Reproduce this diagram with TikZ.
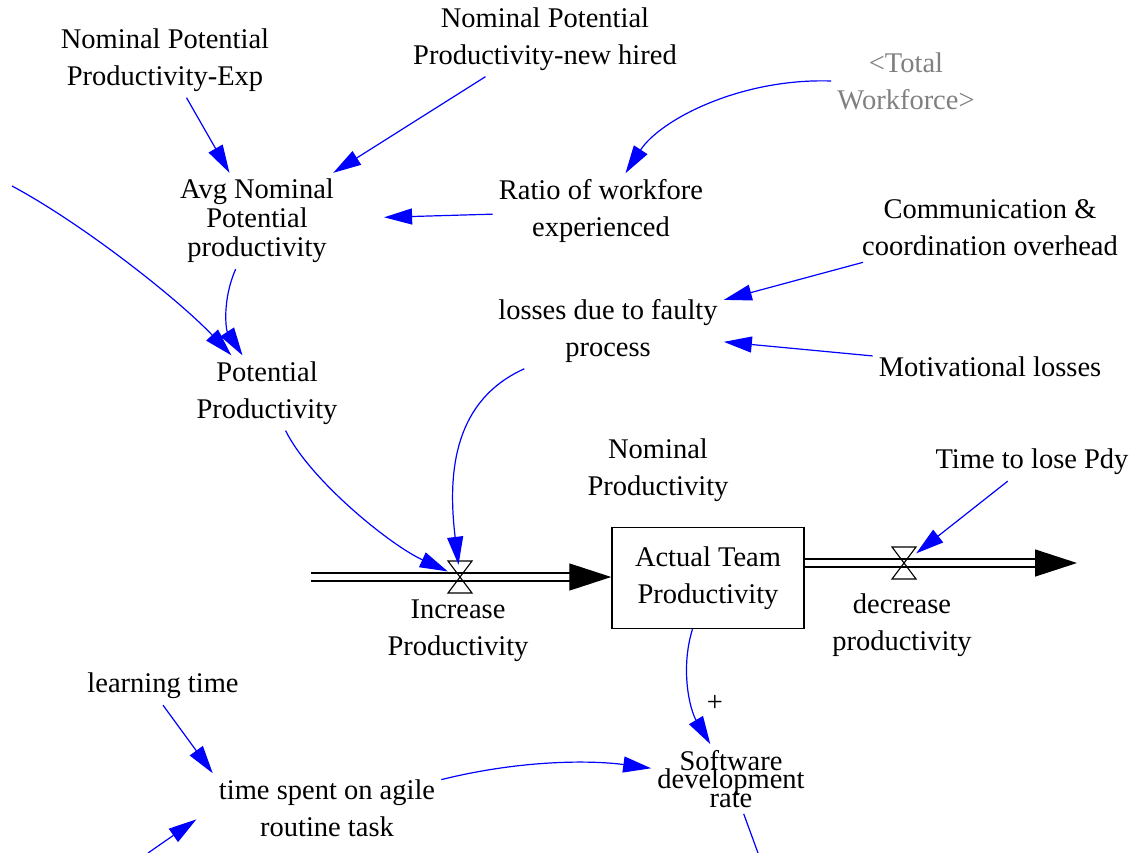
\documentclass[tikz,border=0pt]{standalone}
\usepackage{fontspec}
\setmainfont{Liberation Serif}
\usetikzlibrary{arrows.meta}
\definecolor{linkblue}{RGB}{0,0,255}
\definecolor{shadowgray}{RGB}{128,128,128}
\tikzset{
var/.style={align=center, inner sep=6pt, font=\fontsize{28.5}{37}\selectfont},
ghost/.style={var, text=shadowgray},
link/.style={linkblue, line width=1.2pt, -{Triangle[length=28pt,width=16pt]}},
pipe/.style={double, double distance=6.5pt, line width=1.3pt, -{Triangle[length=42pt,width=27pt]}},
stockbox/.style={var, draw, line width=1.4pt, minimum width=192pt, minimum height=101pt},
valvenode/.style={inner sep=0pt, minimum size=24pt},
valve/.pic={
  \draw[line width=1.1pt] (-12,-16) -- (12,-16) -- (-12,16) -- (12,16) -- cycle;
  }
}
\begin{document}
\begin{tikzpicture}[x=1pt, y=-1pt]
  \useasboundingbox (0,0) rectangle (1144,852);
  \node[var] (exp) at (165,60) {Nominal Potential\\Productivity-Exp};
  \node[var] (hired) at (545,39) {Nominal Potential\\Productivity-new hired};
  \node[ghost] (total) at (906,81) {<Total\\Workforce>};
  \node[var, font=\fontsize{28.5}{29}\selectfont] (avg) at (257,221) {Avg Nominal\\Potential\\productivity};
  \node[var] (ratio) at (601,211) {Ratio of workfore\\experienced};
  \node[var] (comm) at (990,228) {Communication \&\\coordination overhead};
  \node[var] (loss) at (608,331) {losses due to faulty\\process};
  \node[var] (motiv) at (990,367) {Motivational losses};
  \node[var] (pot) at (267,393) {Potential\\Productivity};
  \node[var] (nom) at (658,470) {Nominal\\Productivity};
  \node[var] (time) at (1032,462) {Time to lose Pdy};
  \node[stockbox] (stock) at (708,578) {Actual Team\\Productivity};
  \node[valvenode] (incv) at (460,577) {};
  \node[valvenode] (decv) at (904,563) {};
  \node[var] (incl) at (458,631) {Increase\\Productivity};
  \node[var] (decl) at (902,625) {decrease\\productivity};
  \node[var] (learn) at (163,686) {learning time};
  \node[var] (spent) at (327,808) {time spent on agile\\routine task};
  \node[var, font={\fontsize{28.5}{18.5}\selectfont\lineskiplimit=-40pt}] (sdr) at (731,779) {Software\\development\\rate};
  \node[var, inner sep=0pt] (plus) at (715,703) {+};
  \coordinate (src) at (311,577);
  \coordinate (sink) at (1077,563);
  \coordinate (wfin) at (12,186);
  \coordinate (rtin) at (148,853);
  \coordinate (sdrout) at (758,853);
  \draw[pipe] (src) -- (src -| stock.west);
  \draw[pipe] (stock.east |- decv) -- (sink);
  \pic at (incv) {valve};
  \pic at (decv) {valve};
  \draw[link] (exp) -- (avg);
  \draw[link] (hired) -- (avg);
  \draw[link] (total.west) .. controls (740,78) and (660,120) .. (ratio);
  \draw[link, shorten >=44pt] (ratio) -- (avg);
  \draw[link] (wfin) .. controls (83,224) and (178,299) .. (pot);
  \draw[link] (avg) .. controls (222,300) and (226,330) .. (pot);
  \draw[link] (pot) .. controls (310,480) and (390,545) .. (incv);
  \draw[link] (loss) .. controls (455,400) and (447,470) .. (incv);
  \draw[link] (comm) -- (loss);
  \draw[link] (motiv) -- (loss);
  \draw[link] (time) -- (decv);
  \draw[link] (stock) .. controls (680,670) and (690,710) .. (sdr);
  \draw[link] (spent) .. controls (520,760) and (590,760) .. (sdr);
  \draw[link] (learn.south) -- (spent.north west);
  \draw[link, shorten >=20pt] (rtin) -- (spent.west);
  \draw[link, -] (sdr) -- (sdrout);
\end{tikzpicture}
\end{document}
